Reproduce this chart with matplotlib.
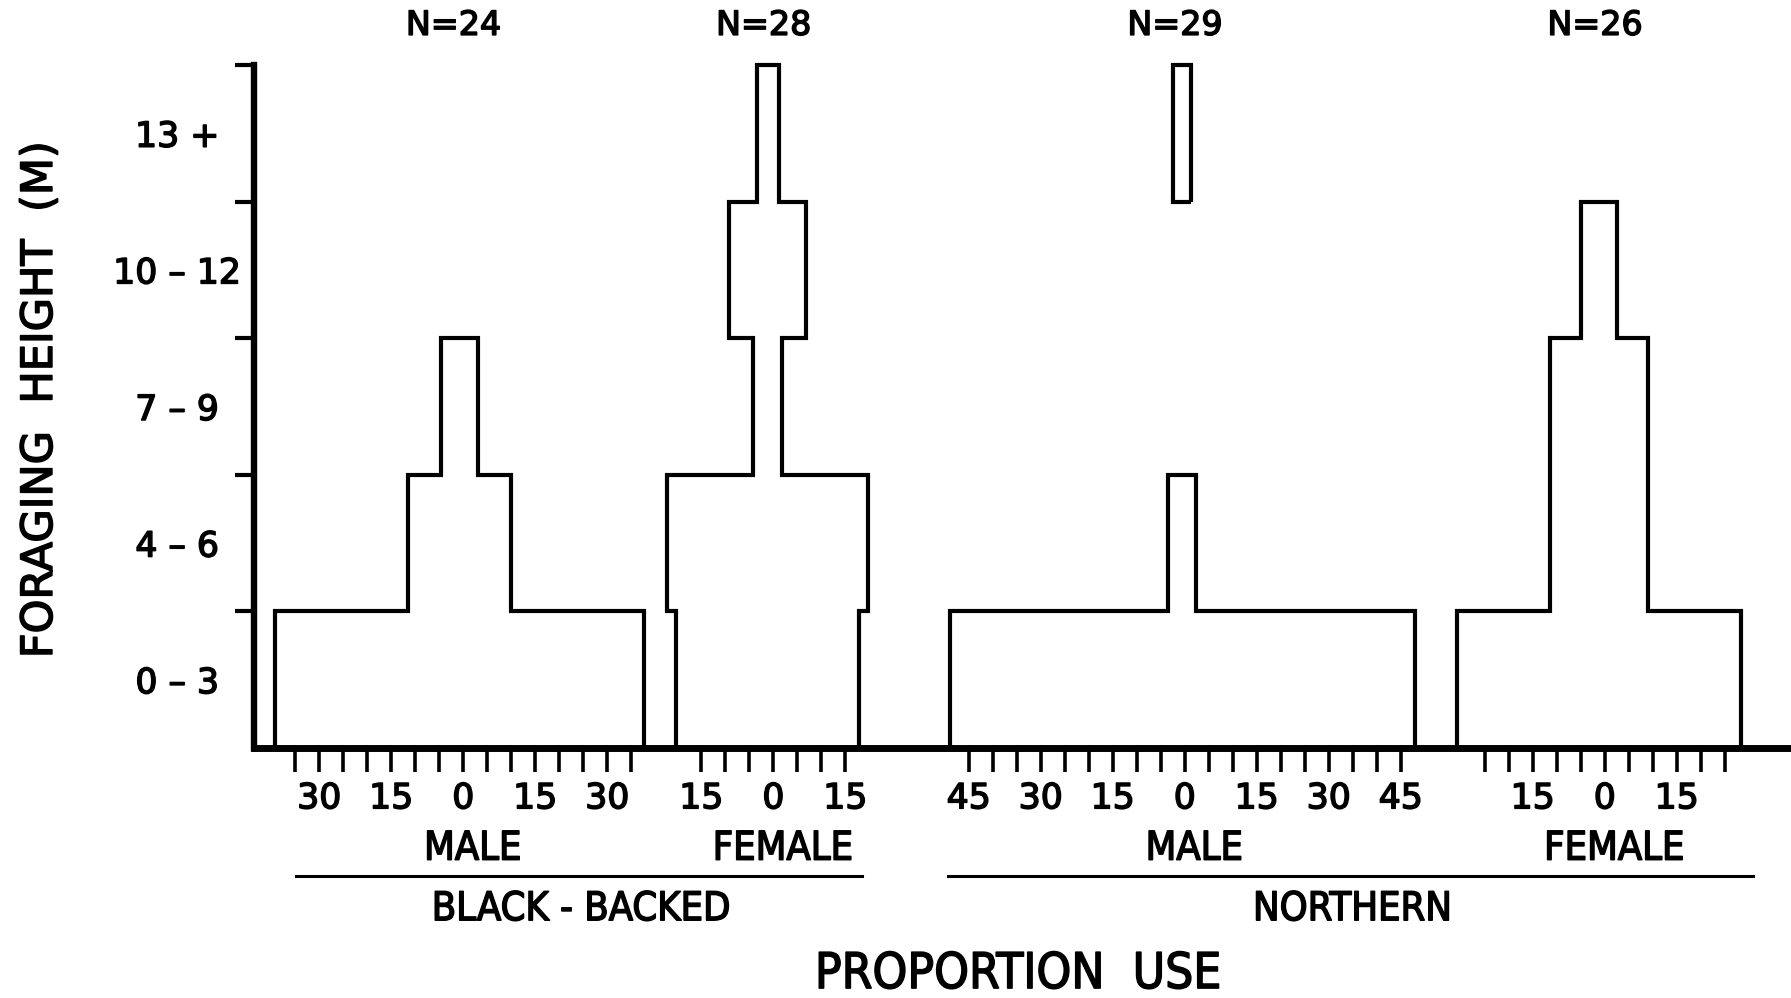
import matplotlib
matplotlib.use("Agg")
import matplotlib.pyplot as plt
from matplotlib import font_manager
import matplotlib.patheffects as pe

# ---------------- data (half-width of each kite, read in axis units) ----------------
height_classes = ["0 – 3", "4 – 6", "7 – 9", "10 – 12", "13 +"]
bb_male = [38.5, 10.8, 3.9, 0.0, 0.0]
bb_female = [19.0, 21.0, 3.0, 8.0, 2.3]
n_male = [48.5, 2.9, 0.0, 0.0, 1.9]
n_female = [29.5, 10.2, 10.2, 3.8, 0.0]
sample_sizes = [24, 28, 29, 26]
sex_labels = ["MALE", "FEMALE", "MALE", "FEMALE"]
species_labels = ["BLACK - BACKED", "NORTHERN"]
tick_max = [35, 15, 45, 25]          # outermost scale tick of each group
label_values = [15, 30, 45]          # scale values that carry a label

# ---------------- layout ----------------
group_centers = [0.0, 64.6, 150.3, 237.8]
kite_shift = [-0.8, -1.2, -0.5, -1.2]
species_lines = [(-34.8, 83.0), (100.9, 268.6)]

names = {f.name for f in font_manager.fontManager.ttflist}
narrow = "Liberation Sans Narrow" if "Liberation Sans Narrow" in names else "DejaVu Sans"
narrow_kw = {"family": narrow}
if narrow == "DejaVu Sans":
    narrow_kw["stretch"] = "condensed"

plt.rcParams["font.family"] = ["DejaVu Sans"]
thick = [pe.withStroke(linewidth=1.1, foreground="black")]

fig = plt.figure(figsize=(17.91, 9.98), dpi=100)
fig.patch.set_facecolor("white")
ax = fig.add_axes([0.1416, 0.2505, 0.8584, 0.6844])
ax.set_xlim(-43.67, 276.6)
ax.set_ylim(0, 5)

LW = 3.0
series = [bb_male, bb_female, n_male, n_female]
for c0, dc, w in zip(group_centers, kite_shift, series):
    c = c0 + dc
    runs, cur = [], []
    for i, v in enumerate(w):
        if v > 0:
            cur.append(i)
        elif cur:
            runs.append(cur)
            cur = []
    if cur:
        runs.append(cur)
    for run in runs:
        xs, ys = [], []
        for i in run:
            xs += [c + w[i], c + w[i]]
            ys += [i, i + 1]
        for i in reversed(run):
            xs += [c - w[i], c - w[i]]
            ys += [i + 1, i]
        xs.append(xs[0])
        ys.append(ys[0])
        ax.plot(xs, ys, color="black", lw=LW, clip_on=False,
                solid_joinstyle="miter", solid_capstyle="butt")

# ---------------- axes styling ----------------
for s in ["top", "right"]:
    ax.spines[s].set_visible(False)
ax.spines["left"].set_linewidth(4.6)
ax.spines["bottom"].set_linewidth(5.0)

xt, xl = [], []
for c, m in zip(group_centers, tick_max):
    for v in range(-m, m + 1, 5):
        xt.append(c + v)
        xl.append(str(abs(v)) if (v == 0 or abs(v) in label_values) else "")
ax.set_xticks(xt)
ax.set_xticklabels(xl, fontsize=25)
ax.tick_params(axis="x", direction="out", length=17, width=2.6, pad=7)
for lab in ax.get_xticklabels():
    lab.set_path_effects(thick)

ax.set_yticks([1, 2, 3, 4, 5])
ax.set_yticklabels([])
ax.set_yticks([i + 0.5 for i in range(len(height_classes))], minor=True)
ax.set_yticklabels(height_classes, minor=True, fontsize=25)
ax.tick_params(axis="y", which="major", direction="out", length=14, width=3.0)
ax.tick_params(axis="y", which="minor", length=0, pad=55)
for lab in ax.get_yticklabels(minor=True):
    lab.set_horizontalalignment("center")
    lab.set_path_effects(thick)

# ---------------- annotations ----------------
for c, n in zip(group_centers, sample_sizes):
    ax.text(c - 2, 5.29, f"N={n}", ha="center", va="center", fontsize=24,
            clip_on=False, path_effects=thick)

for c, s in zip(group_centers, sex_labels):
    ax.text(c + 2, -0.737, s, ha="center", va="center", fontsize=28.5,
            clip_on=False, path_effects=thick, **narrow_kw)

for (x0, x1), sp in zip(species_lines, species_labels):
    ax.plot([x0, x1], [-0.937, -0.937], color="black", lw=2.2, clip_on=False)
    ax.text((x0 + x1) / 2 + 0.5, -1.18, sp, ha="center", va="center", fontsize=28.5,
            clip_on=False, path_effects=thick, **narrow_kw)

ax.text(115.6, -1.655, "PROPORTION  USE", ha="center", va="center", fontsize=35.5,
        clip_on=False, path_effects=thick, **narrow_kw)

fig.text(0.0223, 0.599, "FORAGING  HEIGHT  (M)", rotation=90, ha="center",
         va="center", fontsize=31, path_effects=thick)

fig.savefig("out.png", dpi=100, facecolor="white")
